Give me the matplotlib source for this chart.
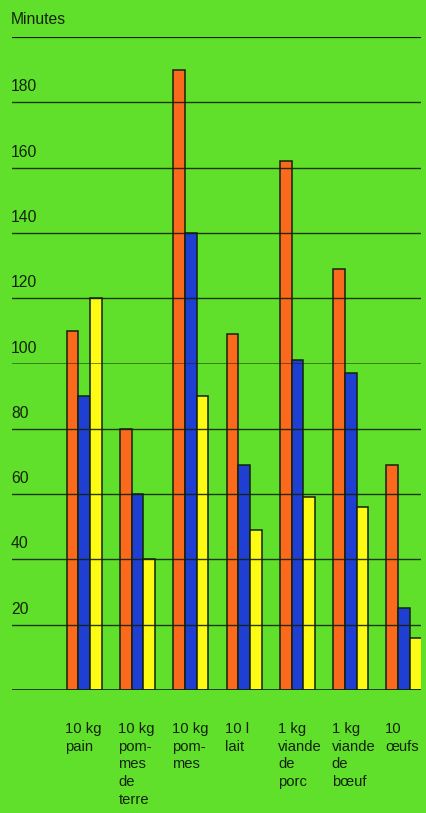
import numpy as np
import matplotlib.pyplot as plt

# Minutes of work needed to buy each item, three series per item
categories = ["10 kg\npain", "10 kg\npom-\nmes\nde\nterre", "10 kg\npom-\nmes",
              "10 l\nlait", "1 kg\nviande\nde\nporc", "1 kg\nviande\nde\nbœuf",
              "10\nœufs"]
series_orange = [110, 80, 190, 109, 162, 129, 69]
series_blue = [90, 60, 140, 69, 101, 97, 25]
series_yellow = [120, 40, 90, 49, 59, 56, 16]
ytick_values = [20, 40, 60, 80, 100, 120, 140, 160, 180]
ytick_labels = ["20", "40", "60", "80", "100", "120", "140", "160", "180"]
unit_label = "Minutes"

green = "#60e02a"
orange = "#fb6a1c"
blue = "#1f3fd2"
yellow = "#fdfa14"
ink = "#14220c"

plt.rcParams['font.family'] = ['Liberation Sans', 'DejaVu Sans']

W, H = 427, 813
fig = plt.figure(figsize=(W / 100, H / 100), dpi=100, facecolor=green)
left_px, right_px, base_px, top_px = 12, 421, 690, 37
ax = fig.add_axes([left_px / W, (H - base_px) / H,
                   (right_px - left_px) / W, (base_px - top_px) / H])
ax.set_facecolor(green)
for s in ax.spines.values():
    s.set_visible(False)
ax.set_xticks([])
ax.set_yticks([])

w = 0.22
x = np.arange(len(categories))
ax.set_xlim((left_px - 84.2) / 53.3, (right_px - 84.2) / 53.3)
ax.set_ylim(0, 200)

for off, vals, col in [(-w, series_orange, orange), (0, series_blue, blue),
                       (w, series_yellow, yellow)]:
    ax.bar(x + off, vals, width=w, color=col, edgecolor=ink, linewidth=1.1, zorder=2)

# horizontal rules drawn over the bars
for v in ytick_values:
    lw, alpha = (0.6, 0.6) if v == 100 else (1.0, 0.9)
    ax.axhline(v, color=ink, lw=lw, alpha=alpha, zorder=3)
ax.axhline(0, color=ink, lw=1.2, zorder=3)
ax.axhline(200, color=ink, lw=1.6, zorder=3)

# value labels sit just above each rule at the left
for v, lab in zip(ytick_values, ytick_labels):
    ax.annotate(lab, xy=(0, v), xycoords=('axes fraction', 'data'),
                xytext=(-1, 11), textcoords='offset pixels',
                ha='left', va='baseline', fontsize=11.3, color=ink)
ax.annotate(unit_label, xy=(0, 200), xycoords=('axes fraction', 'data'),
            xytext=(-1, 13), textcoords='offset pixels',
            ha='left', va='baseline', fontsize=11.3, color=ink)

# category names under each group
for xi, lab in zip(x, categories):
    ax.annotate(lab, xy=(xi - 1.5 * w, 0), xycoords=('data', 'axes fraction'),
                xytext=(-1.5, -32), textcoords='offset pixels',
                ha='left', va='top', fontsize=10.6, color=ink,
                linespacing=1.33, annotation_clip=False)

fig.savefig("out.png", dpi=100, facecolor=green)
